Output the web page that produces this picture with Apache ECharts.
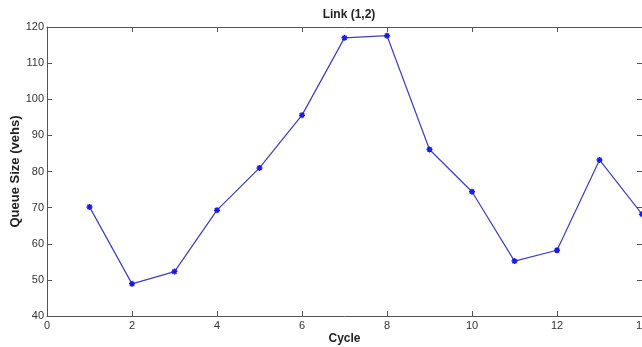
<!DOCTYPE html>
<html>
<head>
<meta charset="utf-8">
<script src="https://cdn.jsdelivr.net/npm/echarts@6/dist/echarts.min.js"></script>
<style>
  html, body { margin: 0; padding: 0; background: #fff; }
  #chart { width: 642px; height: 347px; }
</style>
</head>
<body>
<div id="chart"></div>
<script>
// values
const cycles = [1, 2, 3, 4, 5, 6, 7, 8, 9, 10, 11, 12, 13, 14];
const queueSize = [70.2, 48.9, 52.3, 69.3, 81.0, 95.6, 117.0, 117.6, 86.1, 74.4, 55.2, 58.2, 83.2, 68.2];

const font = 'Liberation Sans, Arial, sans-serif';
const axisColor = '#555';

function boxAxis(extra) {
    return Object.assign({
        axisLine: { show: true, onZero: false, lineStyle: { color: axisColor, width: 1 } },
        axisTick: { show: true, inside: true, length: 5, lineStyle: { color: axisColor } },
        splitLine: { show: false }
    }, extra);
}

let chart = echarts.init(document.getElementById('chart'));
chart.setOption({
    animation: false,
    title: {
        text: 'Link (1,2)',
        left: 344,
        top: 4,
        textAlign: 'center',
        textStyle: { fontFamily: font, fontSize: 12, fontWeight: 'bold', color: '#222' }
    },
    grid: { left: 47, top: 27, width: 595, height: 289, containLabel: false, outerBoundsMode: 'none' },
    xAxis: [
        boxAxis({
            type: 'value', min: 0, max: 14, interval: 2,
            name: 'Cycle', nameLocation: 'middle', nameGap: 17, nameMoveOverlap: false,
            nameTextStyle: { fontFamily: font, fontSize: 12, fontWeight: 'bold', color: '#222' },
            axisLabel: { fontFamily: font, fontSize: 11, color: '#333', margin: 4 }
        }),
        boxAxis({
            type: 'value', min: 0, max: 14, interval: 2, position: 'top',
            axisLabel: { show: false }
        })
    ],
    yAxis: [
        boxAxis({
            type: 'value', min: 40, max: 120, interval: 10,
            name: 'Queue Size (vehs)', nameLocation: 'middle', nameGap: 25, nameMoveOverlap: false,
            nameTextStyle: { fontFamily: font, fontSize: 13, fontWeight: 'bold', color: '#222' },
            axisLabel: { fontFamily: font, fontSize: 11, color: '#333', margin: 3 }
        }),
        boxAxis({
            type: 'value', min: 40, max: 120, interval: 10, position: 'right',
            axisLabel: { show: false }
        })
    ],
    series: [
        {
            type: 'line',
            data: cycles.map((c, i) => [c, queueSize[i]]),
            symbol: 'path://M0,-5L0,5M-5,0L5,0M-3.5,-3.5L3.5,3.5M-3.5,3.5L3.5,-3.5',
            symbolSize: 6,
            itemStyle: { color: '#1a1ae6', borderColor: '#1a1ae6', borderWidth: 1.5 },
            lineStyle: { color: '#3c3cc8', width: 1.2 }
        }
    ]
});
</script>
</body>
</html>
